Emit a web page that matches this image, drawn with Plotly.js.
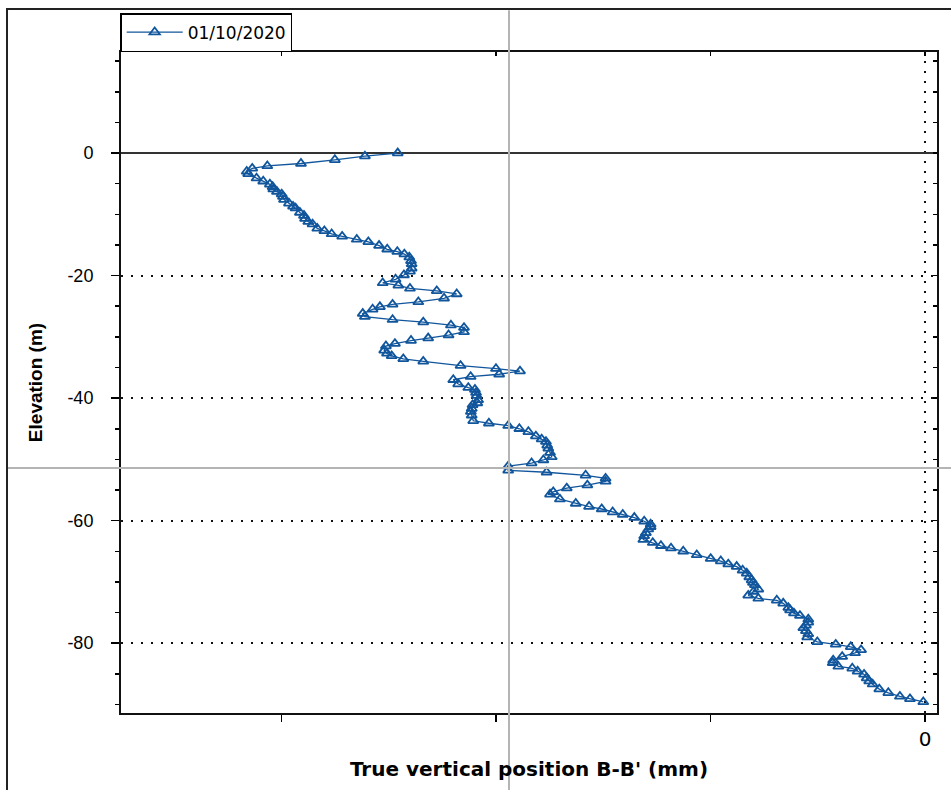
<!DOCTYPE html>
<html>
<head>
<meta charset="utf-8">
<script src="https://cdn.plot.ly/plotly-3.0.1.min.js"></script>
<style>html,body{margin:0;padding:0;background:#fff;}#chart{width:951px;height:790px;}</style>
</head>
<body>
<div id="chart"></div>
<script>
// Series name
var seriesName = "01/10/2020";

// Elevation (m)
var elevation = [
  0, -0.5, -1.1, -1.7, -2.1, -2.5, -3.0, -3.4, -4.1, -4.6,
  -5.1, -5.5, -5.9, -6.3, -6.7, -7.1, -7.6, -8.2, -8.7, -9.0,
  -9.7, -10.2, -10.7, -11.2, -11.6, -12.3, -12.7, -13.2, -13.6, -14.1,
  -14.5, -15.1, -15.7, -16.1, -16.5, -17.0, -17.6, -18.1, -18.8, -19.3,
  -19.9, -20.6, -21.2, -21.6, -22.1, -22.5, -23.0, -23.7, -24.3, -24.7,
  -25.1, -25.5, -26.2, -26.7, -27.2, -27.6, -28.1, -28.5, -29.2, -29.7,
  -30.2, -30.6, -31.1, -31.5, -32.2, -32.7, -33.1, -33.6, -34.0, -34.7,
  -35.2, -35.6, -36.1, -36.5, -37.0, -37.7, -38.3, -38.6, -39.1, -39.6,
  -40.3, -40.8, -41.1, -41.7, -42.2, -42.8, -43.7, -44.1, -44.5, -45.0,
  -45.5, -46.2, -46.7, -47.1, -47.7, -48.2, -48.9, -49.6, -50.1, -50.6,
  -51.1, -51.8, -52.1, -52.6, -53.1, -53.6, -54.2, -54.7, -55.3, -55.7,
  -56.5, -57.2, -57.7, -58.1, -58.6, -59.0, -59.5, -60.1, -60.6, -61.0,
  -61.4, -62.0, -62.5, -63.1, -63.6, -64.1, -64.5, -65.0, -65.6, -66.2,
  -66.6, -67.1, -67.5, -68.1, -68.6, -69.2, -69.7, -70.1, -70.5, -71.2,
  -71.6, -72.2, -72.7, -73.0, -73.5, -74.2, -74.6, -75.1, -75.5, -76.1,
  -76.6, -77.1, -77.5, -78.0, -78.5, -79.0, -79.8, -80.2, -80.6, -81.1,
  -81.6, -82.2, -82.8, -83.2, -83.8, -84.1, -84.6, -85.1, -85.7, -86.2,
  -86.7, -87.5, -88.1, -88.7, -89.1, -89.6
];

// True vertical position B-B' (mm)
var position = [
  -24.58, -26.11, -27.51, -29.09, -30.66, -31.36, -31.62, -31.55, -31.16, -30.85,
  -30.54, -30.41, -30.38, -30.21, -29.99, -29.93, -29.88, -29.65, -29.46, -29.34,
  -29.14, -28.95, -28.90, -28.75, -28.55, -28.33, -28.00, -27.66, -27.17, -26.49,
  -25.95, -25.45, -25.07, -24.60, -24.27, -24.04, -23.96, -23.93, -23.93, -24.01,
  -24.29, -24.68, -25.28, -24.55, -24.01, -22.76, -21.83, -22.42, -23.62, -24.82,
  -25.41, -25.75, -26.21, -26.11, -24.82, -23.39, -22.10, -21.49, -21.49, -22.21,
  -23.16, -23.96, -24.71, -25.13, -25.21, -25.08, -24.86, -24.32, -23.39, -21.65,
  -20.00, -18.88, -19.85, -21.18, -21.99, -21.76, -21.29, -20.98, -20.93, -20.90,
  -20.83, -20.87, -21.09, -21.13, -21.17, -21.13, -21.06, -20.33, -19.43, -18.91,
  -18.49, -18.14, -17.87, -17.67, -17.61, -17.56, -17.48, -17.40, -17.79, -18.34,
  -19.43, -19.43, -17.64, -15.82, -14.89, -14.89, -15.74, -16.70, -17.33, -17.48,
  -17.02, -16.28, -15.66, -15.07, -14.56, -14.09, -13.55, -13.09, -12.79, -12.79,
  -12.90, -13.01, -13.09, -13.13, -12.69, -12.31, -11.84, -11.27, -10.64, -9.99,
  -9.52, -9.17, -8.78, -8.50, -8.31, -8.19, -8.08, -8.02, -7.93, -7.77,
  -8.00, -8.24, -7.77, -6.91, -6.61, -6.37, -6.29, -6.11, -5.83, -5.44,
  -5.44, -5.55, -5.67, -5.55, -5.44, -5.49, -5.02, -4.16, -3.46, -2.98,
  -3.26, -3.86, -4.28, -4.30, -4.04, -3.39, -3.14, -2.84, -2.72, -2.60,
  -2.44, -2.13, -1.71, -1.17, -0.70, -0.08
];

// Axis ticks
var xTickVals = [-30, -20, -10, 0];
var xTickText = ["", "", "", "0"];
var yTickVals = [0, -20, -40, -60, -80];
var yTickText = ["0", "-20", "-40", "-60", "-80"];

var xRange = [-37.48, 0.56];
var yRange = [-91.4, 16.5];
var blue = "#11569c";

var trace = {
  x: position,
  y: elevation,
  name: seriesName,
  type: "scatter",
  mode: "lines+markers",
  line: {color: blue, width: 1.3},
  marker: {symbol: "triangle-up-open", size: 9, color: blue, line: {color: blue, width: 1.8}}
};

// empty trace that only carries the inward ticks of the top and right frame
var frameTrace = {x: [], y: [], xaxis: "x2", yaxis: "y2", type: "scatter", mode: "markers", showlegend: false, hoverinfo: "skip"};

var layout = {
  width: 951,
  height: 790,
  margin: {l: 121, r: 14, t: 52, b: 77, pad: 0},
  paper_bgcolor: "#ffffff",
  plot_bgcolor: "#ffffff",
  showlegend: true,
  legend: {
    x: -0.001, y: 1.0295, xanchor: "left", yanchor: "middle",
    bordercolor: "#000", borderwidth: 1.5, bgcolor: "#fff",
    font: {family: "DejaVu Sans", size: 17, color: "#000"},
    itemwidth: 56
  },
  xaxis: {
    range: xRange,
    tickmode: "array",
    tickvals: xTickVals,
    ticktext: xTickText,
    ticks: "outside",
    ticklen: 7,
    tickwidth: 1.5,
    tickcolor: "#000",
    ticklabelstandoff: 0,
    showgrid: false,
    zeroline: false,
    showline: true,
    linecolor: "#111",
    linewidth: 2,
    mirror: true,
    tickfont: {family: "DejaVu Sans", size: 20, color: "#000"},
    title: {
      text: "True vertical position B-B' (mm)",
      font: {family: "DejaVu Sans", size: 20, color: "#000", weight: "bold"},
      standoff: 12
    },
    automargin: false
  },
  yaxis: {
    range: yRange,
    tickmode: "array",
    tickvals: yTickVals,
    ticktext: yTickText,
    ticks: "outside",
    ticklen: 8,
    tickwidth: 1.5,
    tickcolor: "#000",
    ticklabelstandoff: 14,
    minor: {dtick: 5, tick0: 0, ticks: "outside", ticklen: 4, tickwidth: 1.5, tickcolor: "#000", showgrid: false},
    showgrid: true,
    gridcolor: "#111",
    gridwidth: 2,
    griddash: "2px,8px",
    zeroline: true,
    zerolinecolor: "#333",
    zerolinewidth: 2,
    showline: true,
    linecolor: "#111",
    linewidth: 2,
    mirror: true,
    tickfont: {family: "Liberation Sans", size: 18, color: "#000"},
    title: {
      text: "Elevation (m)",
      font: {family: "Liberation Sans", size: 19, color: "#000", weight: "bold"},
      standoff: 20
    },
    automargin: false
  },
  xaxis2: {
    overlaying: "x", side: "top", anchor: "y2", range: xRange,
    tickmode: "array", tickvals: xTickVals, ticks: "inside", ticklen: 4, tickwidth: 1.5, tickcolor: "#000",
    showticklabels: false, showgrid: false, zeroline: false, showline: false
  },
  yaxis2: {
    overlaying: "y", side: "right", anchor: "x2", range: yRange,
    tickmode: "array", tickvals: yTickVals, ticks: "inside", ticklen: 4, tickwidth: 1.5, tickcolor: "#000",
    minor: {dtick: 5, tick0: 0, ticks: "inside", ticklen: 4, tickwidth: 1.5, tickcolor: "#000", showgrid: false},
    showticklabels: false, showgrid: false, zeroline: false, showline: false
  },
  shapes: [
    {type: "line", xref: "x", yref: "paper", x0: 0, x1: 0, y0: 0, y1: 1,
     line: {color: "#111", width: 2, dash: "2px,8px"}, layer: "below"},
    {type: "rect", xref: "paper", yref: "paper", x0: -0.1397, x1: 1.2, y0: -0.3, y1: 1.065,
     line: {color: "#222", width: 2}, fillcolor: "rgba(0,0,0,0)", layer: "above"},
    {type: "line", xref: "paper", yref: "paper", x0: 0.4755, x1: 0.4755, y0: -0.3, y1: 1.063,
     line: {color: "#b4b4b4", width: 2}, layer: "above"},
    {type: "line", xref: "paper", yref: "paper", x0: -0.1385, x1: 1.2, y0: 0.3707, y1: 0.3707,
     line: {color: "#b4b4b4", width: 2}, layer: "above"}
  ]
};

Plotly.newPlot("chart", [trace, frameTrace], layout, {displayModeBar: false, staticPlot: true});
</script>
</body>
</html>
